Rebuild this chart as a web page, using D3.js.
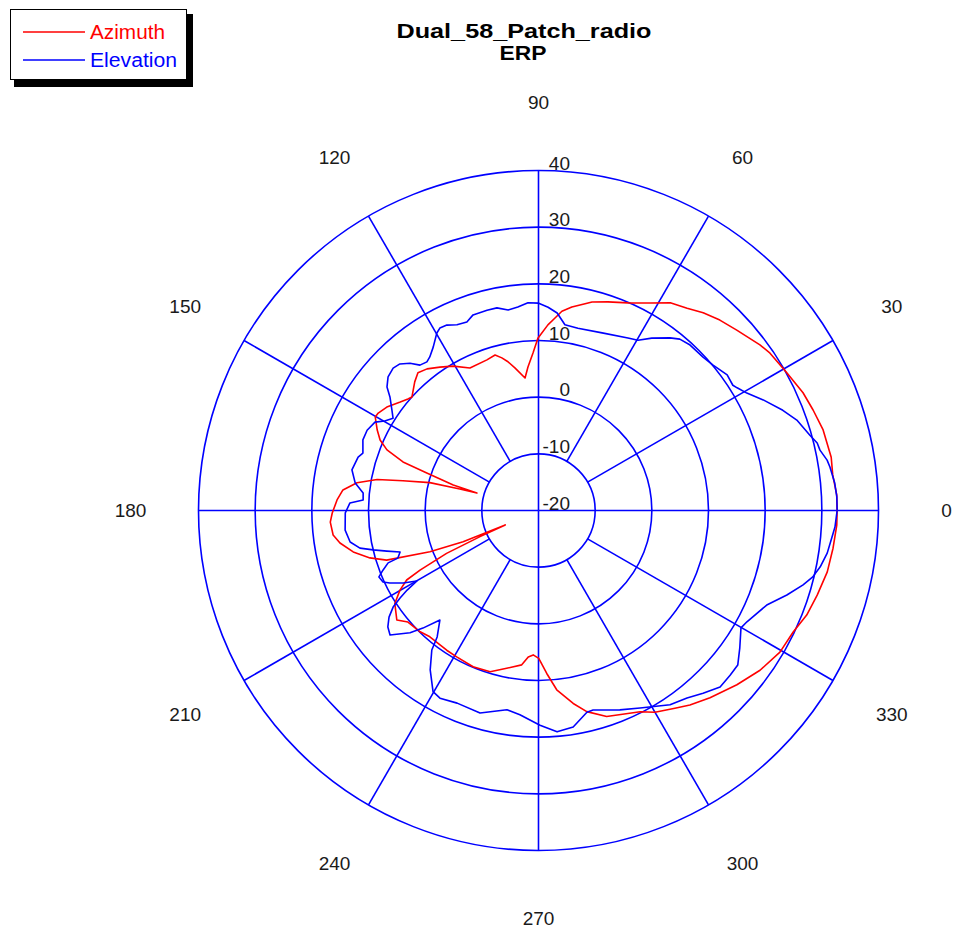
<!DOCTYPE html>
<html>
<head>
<meta charset="utf-8">
<script src="https://cdn.jsdelivr.net/npm/d3@7"></script>
<style>
  html, body { margin: 0; padding: 0; background: #fff; }
  svg { display: block; font-family: "Liberation Sans", Arial, sans-serif; }
</style>
</head>
<body>
<svg id="chart" width="956" height="931"></svg>
<script>
// Polar ERP plot: two antenna patterns in dB against bearing in degrees.
const chartTitle = ["Dual_58_Patch_radio", "ERP"];
const seriesNames = ["Azimuth", "Elevation"];
const seriesColors = ["#ff0000", "#0000ff"];

const ringTicks = [-20, -10, 0, 10, 20, 30, 40];
const angleTicks = [0, 30, 60, 90, 120, 150, 180, 210, 240, 270, 300, 330];

const azimuthAngles = [0, 3, 6.9, 10.3, 15.8, 20.1, 24, 29, 34.2, 36.8, 42.3, 46.4, 50.2, 53.7, 57.6, 61.7,
  66.7, 71.6, 75.6, 77.3, 80.7, 83.3, 85.1, 87.1, 90.2, 92, 94.2, 95.8, 99.4, 101.6, 103.5, 105.6, 108.9,
  115.7, 120.6, 124.5, 128.2, 131.2, 133.9, 138.1, 139.5, 141.9, 145.7, 148.7, 150.2, 153.5, 156, 158.2,
  160.3, 161.4, 163.4, 164.2, 164.7, 165.6, 167.6, 169.1, 171.3, 174, 177, 180.7, 183.2, 186.8, 189.3,
  192.6, 195.7, 198.1, 200.8, 202.5, 203.4, 204.1, 205, 206.7, 207.8, 209.9, 212.9, 217.7, 220.5, 225.7,
  229.3, 236.7, 240.8, 247.3, 253.3, 258.6, 263.8, 266, 267.9, 270.1, 272.9, 275.8, 280.2, 283.5, 288.3,
  296.8, 300, 304.6, 307.9, 312.5, 318.7, 324.2, 329.6, 334.5, 338.7, 343.1, 348, 352.7, 357.2, 360];
const azimuthValues = [32.7, 32.7, 32.3, 32.5, 32.2, 31.6, 31.1, 30.1, 29.4, 28.8, 27.3, 26.4, 25.4, 24.3, 23.4, 21.6,
  19.9, 18.8, 18.0, 17.4, 16.4, 15.4, 14.1, 12.8, 10.4, 7.8, 5.4, 3.5, 5.5, 6.8, 7.7, 8.5, 8.1,
  7.9, 9.6, 10.7, 11.8, 12.3, 11.5, 10.0, 10.3, 11.0, 12.4, 13.1, 13.2, 11.8, 10.6, 8.8,
  5.4, 0.8, -4.3, -8.7, -5.6, -0.2, 4.5, 9.0, 12.4, 14.7, 15.6, 16.4, 16.8, 16.5, 15.5,
  13.5, 10.9, 8.2, 0.5, -5.6, -13.6, -8.7, -2.1, 3.4, 6.3, 8.2, 10.2, 11.6, 10.3, 9.9,
  9.4, 9.5, 9.6, 9.9, 9.7, 8.4, 7.4, 5.9, 5.5, 6.1, 8.8, 11.8, 14.6, 16.5, 18.3,
  19.8, 21.1, 22.4, 23.5, 24.8, 26.6, 28.2, 29.4, 29.8, 30.8, 31.4, 32.1, 32.4, 32.7, 32.7];

const elevationAngles = [0, 2.6, 5.3, 8.5, 9.9, 12.1, 13.6, 15.5, 19.3, 22.3, 26.2, 29.4, 31.7, 32.8, 35.7, 39.8,
  43, 47.5, 50.5, 52.7, 56.7, 59.7, 62.6, 70.3, 77.8, 81.9, 84.6, 87.3, 90.1, 92.9, 95.8, 98.6, 101.6,
  104.4, 108.5, 110.8, 113.7, 116.3, 118.4, 119.8, 122.8, 125.3, 126.9, 129.2, 131.1, 133.4, 135.6, 138.4,
  140.8, 142.6, 145.5, 147.6, 149.8, 151.6, 154.9, 158.1, 161.9, 163.5, 167.7, 171.5, 174.3, 176.6, 177.7,
  180.7, 185.8, 189.5, 191.9, 193.4, 195, 196.7, 198.7, 199.2, 201, 202.6, 204.7, 206, 208.2, 210.1, 211.2,
  212.3, 213.6, 215.5, 217.7, 220, 223.6, 225.5, 228, 231.3, 232.6, 235.8, 239.8, 242.3, 247.1, 253.9,
  261, 264.8, 270.4, 274.8, 279.1, 283.5, 285.3, 292.2, 297.2, 304.1, 308.4, 312, 315.8, 319.3, 322.2,
  325.7, 329.9, 331.9, 337.5, 341.2, 344.3, 346.4, 348.7, 351.6, 354.8, 356.8, 360];
const elevationValues = [32.7, 32.7, 32.5, 32.0, 31.7, 30.8, 30.6, 29.7, 28.3, 26.6, 24.2, 22.2, 21.2, 20.8, 21.0, 20.1,
  19.7, 19.6, 19.2, 18.3, 16.4, 14.8, 14.3, 13.3, 12.9, 13.1, 15.0, 15.9, 16.6, 16.7, 16.1, 15.8, 16.5,
  16.5, 16.4, 15.6, 15.8, 16.5, 16.6, 16.1, 14.3, 13.2, 12.8, 13.1, 14.5, 15.6, 15.9, 15.5,
  14.5, 13.0, 11.4, 10.4, 11.4, 12.8, 13.4, 13.4, 12.6, 13.2, 13.7, 12.7, 11.1, 11.0, 13.3,
  14.1, 14.3, 13.7, 12.2, 10.0, 7.7, 5.5, 6.2, 8.1, 9.4, 10.5, 10.2, 9.2, 7.1, 4.8, 7.1,
  8.9, 10.8, 12.4, 13.6, 14.2, 11.3, 9.1, 6.0, 8.6, 11.0, 14.0, 17.0, 17.4, 16.9, 17.2,
  15.6, 16.2, 17.9, 19.2, 18.7, 16.6, 16.5, 18.0, 19.2, 21.4, 22.2, 23.4, 24.7, 24.6, 24.5,
  23.0, 21.3, 21.7, 23.6, 26.3, 28.5, 29.8, 30.7, 31.5, 32.0, 32.4, 32.7];

const svg = d3.select("#chart");
const cx = 538.5, cy = 510.5;
const outerR = 340;
const r = d3.scaleLinear().domain([ringTicks[0], ringTicks[ringTicks.length - 1]]).range([0, outerR]);
const toRad = deg => (90 - deg) * Math.PI / 180;   // 0 deg at the right, counter-clockwise
const gridColor = "#0000ff";
const textColor = "#1a1a1a";

const plot = svg.append("g").attr("transform", `translate(${cx},${cy})`);

// Rings (the centre value has no circle)
plot.append("g").selectAll("circle")
  .data(ringTicks.slice(1))
  .join("circle")
  .attr("r", d => r(d))
  .attr("fill", "none")
  .attr("stroke", gridColor)
  .attr("stroke-width", 1.6);

// Spokes: the four axes cross the centre, the others start at the first ring
plot.append("g").selectAll("line")
  .data(angleTicks)
  .join("line")
  .each(function (a) {
    const inner = a % 90 === 0 ? 0 : r(ringTicks[1]);
    const t = toRad(a);
    d3.select(this)
      .attr("x1", inner * Math.sin(t)).attr("y1", -inner * Math.cos(t))
      .attr("x2", outerR * Math.sin(t)).attr("y2", -outerR * Math.cos(t));
  })
  .attr("stroke", gridColor)
  .attr("stroke-width", 1.6);

// Data traces
const radial = d3.lineRadial()
  .angle(d => toRad(d[0]))
  .radius(d => r(d[1]));

const series = [
  d3.zip(azimuthAngles, azimuthValues),
  d3.zip(elevationAngles, elevationValues)
];
plot.append("g").selectAll("path")
  .data(series)
  .join("path")
  .attr("d", d => radial(d))
  .attr("fill", "none")
  .attr("stroke", (d, i) => seriesColors[i])
  .attr("stroke-width", 1.6)
  .attr("stroke-linejoin", "round");

// Ring value labels along the vertical axis
plot.append("g").selectAll("text")
  .data(ringTicks)
  .join("text")
  .attr("x", 31.5)
  .attr("y", d => -r(d) - 1)
  .attr("text-anchor", "end")
  .attr("font-size", 19)
  .attr("fill", textColor)
  .text(d => d);

// Angle labels around the outside
const labelR = 408;
plot.append("g").selectAll("text")
  .data(angleTicks)
  .join("text")
  .attr("x", a => labelR * Math.sin(toRad(a)))
  .attr("y", a => -labelR * Math.cos(toRad(a)))
  .attr("dy", "0.35em")
  .attr("text-anchor", "middle")
  .attr("font-size", 19)
  .attr("fill", textColor)
  .text(a => a);

// Title
svg.append("text")
  .attr("x", 524).attr("y", 38)
  .attr("text-anchor", "middle")
  .attr("font-size", 21).attr("font-weight", "bold")
  .attr("textLength", 255).attr("lengthAdjust", "spacingAndGlyphs")
  .attr("fill", "#000")
  .text(chartTitle[0]);
svg.append("text")
  .attr("x", 523).attr("y", 60)
  .attr("text-anchor", "middle")
  .attr("font-size", 21).attr("font-weight", "bold")
  .attr("textLength", 47).attr("lengthAdjust", "spacingAndGlyphs")
  .attr("fill", "#000")
  .text(chartTitle[1]);

// Legend with drop shadow
const legend = svg.append("g");
legend.append("rect")
  .attr("x", 14).attr("y", 14).attr("width", 179).attr("height", 73)
  .attr("fill", "#000");
legend.append("rect")
  .attr("x", 10.5).attr("y", 9.5).attr("width", 176).attr("height", 70)
  .attr("fill", "#fff").attr("stroke", "#000").attr("stroke-width", 1);
const legendWidths = [75, 87];
const legendRows = legend.selectAll("g.row")
  .data(seriesNames)
  .join("g")
  .attr("class", "row")
  .attr("transform", (d, i) => `translate(0,${32 + i * 28})`);
legendRows.append("line")
  .attr("x1", 23).attr("x2", 85)
  .attr("stroke", (d, i) => seriesColors[i])
  .attr("stroke-width", 1.6);
legendRows.append("text")
  .attr("x", 90).attr("y", 7)
  .attr("font-size", 19.5)
  .attr("textLength", (d, i) => legendWidths[i]).attr("lengthAdjust", "spacingAndGlyphs")
  .attr("fill", (d, i) => seriesColors[i])
  .text(d => d);
</script>
</body>
</html>
